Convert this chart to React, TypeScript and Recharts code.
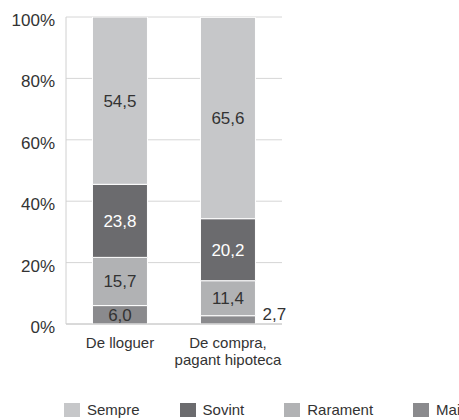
import React from "react";
import { BarChart, Bar, XAxis, YAxis, CartesianGrid, Legend, LabelList } from "recharts";

const categories = ["De lloguer", "De compra, pagant hipoteca"];
const mai = [6.0, 2.7];
const rarament = [15.7, 11.4];
const sovint = [23.8, 20.2];
const sempre = [54.5, 65.6];
const yTicks = [0, 20, 40, 60, 80, 100];

const seriesDefs = [
  { key: "Mai", color: "#8a8a8d", text: "#333333" },
  { key: "Rarament", color: "#b1b2b4", text: "#333333" },
  { key: "Sovint", color: "#6b6b6e", text: "#ffffff" },
  { key: "Sempre", color: "#c6c7c9", text: "#333333" },
];
const legendOrder = ["Sempre", "Sovint", "Rarament", "Mai"];

const data = categories.map((c, i) => ({
  name: c,
  Mai: mai[i],
  Rarament: rarament[i],
  Sovint: sovint[i],
  Sempre: sempre[i],
}));

const FONT = "'Liberation Sans', Arial, sans-serif";

const fmt = (v: number) => v.toFixed(1).replace(".", ",");

const makeLabel = (textColor: string) => (props: any) => {
  const { x, y, width, height, value } = props;
  if (value == null) return null;
  const small = height < 14;
  const tx = small ? x + width + 7 : x + width / 2;
  const ty = small ? y + height - 4 : y + height / 2;
  return (
    <text
      x={tx}
      y={ty}
      dy={small ? 0 : 6}
      textAnchor={small ? "start" : "middle"}
      fill={small ? "#333333" : textColor}
      fontSize={17}
      fontFamily={FONT}
    >
      {fmt(Number(value))}
    </text>
  );
};

const YTick = (props: any) => {
  const { x, y, payload } = props;
  return (
    <text x={x} y={y} dy={9} textAnchor="end" fill="#333333" fontSize={17} fontFamily={FONT}>
      {payload.value + "%"}
    </text>
  );
};

const XTick = (props: any) => {
  const { x, y, payload } = props;
  const s: string = payload.value;
  const idx = s.indexOf(", ");
  const lines = idx >= 0 ? [s.slice(0, idx + 1), s.slice(idx + 2)] : [s];
  return (
    <text x={x} y={y} textAnchor="middle" fill="#333333" fontSize={15} fontFamily={FONT}>
      {lines.map((l, i) => (
        <tspan key={i} x={x} dy={i === 0 ? 16 : 17}>
          {l}
        </tspan>
      ))}
    </text>
  );
};

const LegendContent = () => {
  return (
    <div style={{ display: "flex", alignItems: "center", paddingLeft: 64, paddingTop: 11, fontFamily: FONT, fontSize: 15, lineHeight: "17px", color: "#333333", whiteSpace: "nowrap" }}>
      {legendOrder.map((k, i) => {
        const def = seriesDefs.find((d) => d.key === k)!;
        return (
          <div key={k} style={{ display: "flex", alignItems: "center", marginRight: i < legendOrder.length - 1 ? 40 : 0 }}>
            <span style={{ display: "inline-block", width: 16, height: 14, background: def.color, marginRight: 7 }} />
            <span>{k}</span>
          </div>
        );
      })}
    </div>
  );
};

export default function App() {
  return (
    <div style={{ position: "absolute", left: 0, top: 0, width: 459, height: 420, background: "#ffffff", overflow: "hidden" }}>
      <BarChart
        width={459}
        height={420}
        data={data}
        margin={{ top: 17, right: 177, left: 0, bottom: 0 }}
        barCategoryGap="24.5%"
      >
        <CartesianGrid vertical={false} stroke="#d6d6d6" />
        <XAxis
          dataKey="name"
          axisLine={{ stroke: "#c8c8c8" }}
          tickLine={false}
          height={66}
          tick={<XTick />}
          interval={0}
        />
        <YAxis
          domain={[0, 100]}
          ticks={yTicks}
          width={66}
          axisLine={{ stroke: "#d0d0d0" }}
          tickLine={false}
          tickSize={6}
          tickMargin={5}
          tick={<YTick />}
          allowDataOverflow
        />
        <Legend verticalAlign="bottom" height={30} content={<LegendContent />} />
        {seriesDefs.map((s) => (
          <Bar key={s.key} dataKey={s.key} stackId="a" fill={s.color} stroke="#ffffff" strokeWidth={1} isAnimationActive={false}>
            <LabelList dataKey={s.key} content={makeLabel(s.text)} />
          </Bar>
        ))}
      </BarChart>
    </div>
  );
}
